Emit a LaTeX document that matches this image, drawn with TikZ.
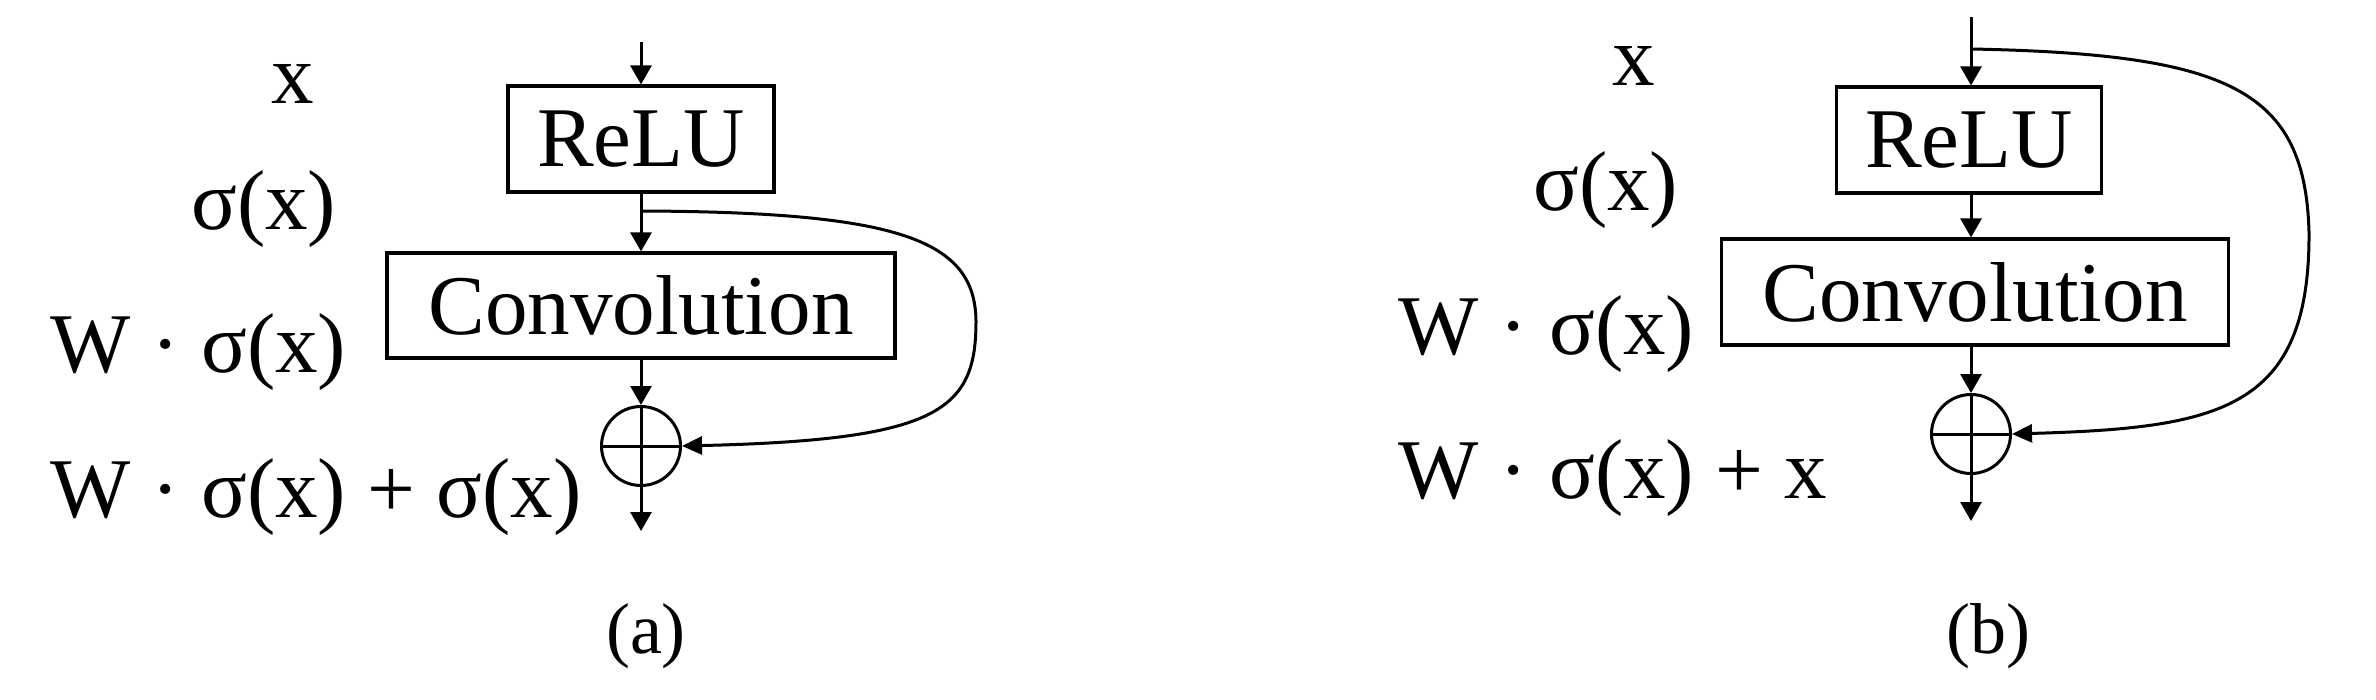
\documentclass[tikz,border=0pt]{standalone}
\usepackage{fontspec}
\setmainfont{Liberation Serif}
\newfontfamily\tnr{Liberation Serif}
\usetikzlibrary{arrows.meta}
\begin{document}
\begin{tikzpicture}[x=1pt,y=-1pt,
  lbl/.style={anchor=base west,inner sep=0pt,font=\tnr\fontsize{85pt}{100pt}\selectfont},
  captext/.style={inner sep=0pt,font=\tnr\fontsize{72pt}{86pt}\selectfont},
  blk/.style={draw,line width=3.2pt,inner sep=0pt,font=\tnr\fontsize{85pt}{100pt}\selectfont},
  sumc/.style={draw,circle,line width=3pt,minimum size=79pt,inner sep=0pt},
  conn/.style={line width=3pt,-{Triangle[length=19pt,width=21pt]}},
  skip/.style={line width=3pt,-{Triangle[length=20pt,width=18pt]}}]
\useasboundingbox (0,0) rectangle (2376,700);
% ---------- (a) ----------
\node[lbl] (ax) at (271,104) {x};
\node[lbl] (as) at (191,230) {σ(x)};
\node[lbl] (aw) at (50,372) {W · σ(x)};
\node[lbl] (awp) at (50,517) {W · σ(x) + σ(x)};
\coordinate (ain) at (641,42);
\node[blk,minimum width=266pt,minimum height=106pt] (arelu) at (641,139) {ReLU};
\node[blk,minimum width=508pt,minimum height=105pt] (aconv) at (641,305.5) {Convolution};
\node[sumc] (asum) at (641,446) {};
\coordinate (aout) at (641,531);
\coordinate (abr) at (641,211);
\draw[conn] (ain) -- (arelu.north);
\draw[conn] (arelu.south) -- (aconv.north);
\draw[conn] (aconv.south) -- (asum.north);
\draw[conn] (asum.south) -- (aout);
\draw[line width=3pt] (asum.north) -- (asum.south) (asum.west) -- (asum.east);
\draw[skip] (abr) .. controls (900,212) and (975,240) .. (976,321)
  .. controls (976,410) and (940,440) .. (asum.east);
\node[captext] (acap) at (646,636) {(a)};
% ---------- (b) ----------
\node[lbl] (bx) at (1612,86) {x};
\node[lbl] (bs) at (1533,211) {σ(x)};
\node[lbl] (bw) at (1398,354) {W · σ(x)};
\node[lbl] (bwp) at (1398,498) {W · σ(x) + x};
\coordinate (bin) at (1971,17);
\node[blk,minimum width=265pt,minimum height=106pt] (brelu) at (1969,140) {ReLU};
\node[blk,minimum width=507pt,minimum height=106pt] (bconv) at (1975,292) {Convolution};
\node[sumc] (bsum) at (1971,434) {};
\coordinate (bout) at (1971,521);
\coordinate (bbr) at (1971,49);
\draw[conn] (bin) -- (bin |- brelu.north);
\draw[conn] (bin |- brelu.south) -- (bin |- bconv.north);
\draw[conn] (bin |- bconv.south) -- (bsum.north);
\draw[conn] (bsum.south) -- (bout);
\draw[line width=3pt] (bsum.north) -- (bsum.south) (bsum.west) -- (bsum.east);
\draw[skip] (bbr) .. controls (2230,54) and (2305,90) .. (2309,232)
  .. controls (2310,410) and (2220,428) .. (bsum.east);
\node[captext] (bcap) at (1988,636) {(b)};
\end{tikzpicture}
\end{document}
